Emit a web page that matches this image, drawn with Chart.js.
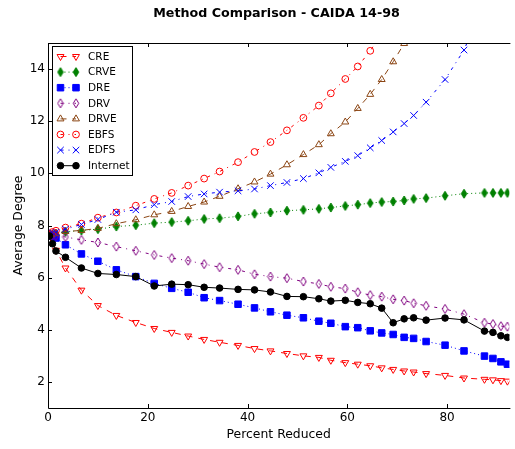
<!DOCTYPE html>
<html>
<head>
<meta charset="utf-8">
<script src="https://cdn.jsdelivr.net/npm/chart.js@4.4.0/dist/chart.umd.min.js"></script>
<style>
  html, body { margin: 0; padding: 0; background: #fff; }
</style>
</head>
<body>
<canvas id="chart" width="515" height="449"></canvas>
<script>
// x positions shared by all methods (percent of graph removed)
const percentReduced = [0.3, 0.9, 1.6, 3.5, 6.7, 10.0, 13.7, 17.6, 21.3, 24.8, 28.1, 31.3, 34.4, 38.1, 41.4, 44.6,
  47.9, 51.2, 54.3, 56.7, 59.6, 62.1, 64.6, 66.9, 69.2, 71.4, 73.3, 75.8, 79.6, 83.4, 87.5, 89.2, 90.8, 92.1];

const cre = [7.6, 7.45, 7.05, 6.37, 5.52, 4.93, 4.55, 4.28, 4.05, 3.9, 3.76, 3.63, 3.52, 3.4, 3.28, 3.19,
  3.09, 3.0, 2.94, 2.83, 2.74, 2.68, 2.62, 2.54, 2.48, 2.42, 2.38, 2.32, 2.25, 2.15, 2.1, 2.08, 2.05, 2.03];
const crve = [7.65, 7.65, 7.68, 7.76, 7.81, 7.86, 7.96, 8.01, 8.09, 8.13, 8.18, 8.25, 8.28, 8.35, 8.45, 8.5,
  8.57, 8.6, 8.64, 8.69, 8.75, 8.8, 8.86, 8.9, 8.92, 8.96, 9.02, 9.05, 9.14, 9.22, 9.25, 9.25, 9.25, 9.25];
const dre = [7.65, 7.6, 7.52, 7.26, 6.91, 6.63, 6.3, 6.04, 5.78, 5.59, 5.44, 5.23, 5.12, 4.98, 4.84, 4.69,
  4.56, 4.46, 4.33, 4.25, 4.12, 4.08, 3.96, 3.88, 3.82, 3.71, 3.67, 3.55, 3.41, 3.19, 2.99, 2.9, 2.77, 2.68];
const drv = [7.65, 7.62, 7.6, 7.56, 7.45, 7.35, 7.19, 7.03, 6.87, 6.75, 6.65, 6.52, 6.4, 6.3, 6.13, 6.04,
  5.98, 5.85, 5.76, 5.65, 5.58, 5.44, 5.33, 5.27, 5.17, 5.12, 5.02, 4.92, 4.8, 4.6, 4.27, 4.22, 4.14, 4.12];
const drve = [7.65, 7.67, 7.7, 7.77, 7.81, 7.89, 8.07, 8.22, 8.41, 8.54, 8.73, 8.9, 9.12, 9.41, 9.67, 9.97,
  10.33, 10.72, 11.1, 11.52, 11.97, 12.49, 13.03, 13.6, 14.28, 14.98, 15.8];
const ebfs = [7.68, 7.75, 7.8, 7.92, 8.07, 8.3, 8.5, 8.76, 9.02, 9.25, 9.53, 9.8, 10.07, 10.43, 10.82, 11.2,
  11.65, 12.13, 12.6, 13.07, 13.62, 14.1, 14.7, 15.35];
const edfs = [7.68, 7.72, 7.74, 7.86, 8.04, 8.23, 8.51, 8.6, 8.8, 8.92, 9.11, 9.21, 9.28, 9.33, 9.4, 9.53,
  9.65, 9.8, 10.02, 10.23, 10.46, 10.68, 10.98, 11.26, 11.59, 11.91, 12.22, 12.73, 13.6, 14.73, 16.6];
const internet = [7.6, 7.3, 7.02, 6.78, 6.37, 6.16, 6.12, 6.04, 5.68, 5.75, 5.73, 5.63, 5.6, 5.55, 5.53, 5.45,
  5.28, 5.27, 5.19, 5.1, 5.13, 5.05, 5.0, 4.83, 4.27, 4.42, 4.46, 4.37, 4.45, 4.38, 3.95, 3.9, 3.77, 3.71];

const xTicks = [0, 20, 40, 60, 80];
const yTicks = [2, 4, 6, 8, 10, 12, 14];

const FONT = "'DejaVu Sans', 'Liberation Sans', sans-serif";
const DASHED = [6, 6], DASHDOT = [3, 5, 1, 5], DOTTED = [1, 3];

// thin diamond marker ('d' in matplotlib)
function thinDiamond(color, filled) {
  const c = document.createElement('canvas');
  c.width = 8; c.height = 11;
  const g = c.getContext('2d');
  g.beginPath();
  g.moveTo(4, 1); g.lineTo(6.8, 5.5); g.lineTo(4, 10); g.lineTo(1.2, 5.5); g.closePath();
  g.lineWidth = 1;
  g.strokeStyle = color;
  if (filled) { g.fillStyle = color; g.fill(); }
  g.stroke();
  return c;
}

const series = [
  { name: 'CRE', vals: cre, color: '#ff0000', dash: DASHED, style: 'triangle', rot: 180, r: 4, filled: false },
  { name: 'CRVE', vals: crve, color: '#008000', dash: DOTTED, style: thinDiamond('#008000', true), r: 4, filled: true },
  { name: 'DRE', vals: dre, color: '#0000ff', dash: DOTTED, style: 'rect', r: 4.6, filled: true },
  { name: 'DRV', vals: drv, color: '#800080', dash: DASHDOT, style: thinDiamond('#800080', false), r: 4, filled: false },
  { name: 'DRVE', vals: drve, color: '#8b4513', dash: DASHED, style: 'triangle', rot: 0, r: 4, filled: false },
  { name: 'EBFS', vals: ebfs, color: '#ff0000', dash: DASHDOT, style: 'circle', r: 3.4, filled: false },
  { name: 'EDFS', vals: edfs, color: '#0000ff', dash: DASHDOT, style: 'crossRot', r: 4.6, filled: false },
  { name: 'Internet', vals: internet, color: '#000000', dash: [], style: 'circle', r: 3.3, filled: true }
];

const datasets = series.map((s, i) => ({
  label: s.name,
  data: s.vals.map((v, j) => ({ x: percentReduced[j], y: v })),
  borderColor: s.color,
  backgroundColor: s.color,
  borderWidth: 1,
  borderDash: s.dash,
  tension: 0,
  fill: false,
  pointStyle: s.style,
  pointRotation: s.rot || 0,
  pointRadius: s.r,
  pointBorderWidth: 1,
  pointBorderColor: s.color,
  pointBackgroundColor: s.filled ? s.color : 'rgba(0,0,0,0)',
  order: series.length - i  // last series ends up on top, like matplotlib
}));

function drawLegendPoint(ctx, s, x, y) {
  ctx.save();
  ctx.setLineDash([]);
  ctx.lineWidth = 1;
  ctx.strokeStyle = s.color;
  ctx.fillStyle = s.filled ? s.color : 'rgba(0,0,0,0)';
  Chart.helpers.drawPoint(ctx, { pointStyle: s.style, rotation: s.rot || 0, radius: s.r, borderWidth: 1 }, x, y);
  ctx.restore();
}

const decorations = {
  id: 'decorations',
  afterDraw(chart) {
    const { ctx, chartArea: a, scales } = chart;
    ctx.save();
    // frame (top, left, bottom)
    ctx.strokeStyle = '#000';
    ctx.lineWidth = 1;
    ctx.beginPath();
    ctx.moveTo(a.right + 1, a.top + 0.5);
    ctx.lineTo(a.left + 0.5, a.top + 0.5);
    ctx.lineTo(a.left + 0.5, a.bottom + 0.5);
    ctx.lineTo(a.right + 1, a.bottom + 0.5);
    ctx.stroke();
    // inward ticks
    ctx.beginPath();
    xTicks.forEach(v => {
      const px = Math.round(scales.x.getPixelForValue(v)) + 0.5;
      ctx.moveTo(px, a.bottom); ctx.lineTo(px, a.bottom - 4);
      ctx.moveTo(px, a.top); ctx.lineTo(px, a.top + 4);
    });
    yTicks.forEach(v => {
      const py = Math.round(scales.y.getPixelForValue(v)) + 0.5;
      ctx.moveTo(a.left, py); ctx.lineTo(a.left + 4, py);
    });
    ctx.stroke();

    // title
    ctx.fillStyle = '#000';
    ctx.font = "bold 12.7px " + FONT;
    ctx.textAlign = 'center';
    ctx.textBaseline = 'alphabetic';
    ctx.fillText('Method Comparison - CAIDA 14-98', 276.5, 16.5);

    // legend
    const lx = 52.5, ly = 46.5, lw = 80, lh = 129;
    ctx.fillStyle = '#fff';
    ctx.fillRect(lx, ly, lw, lh);
    ctx.strokeStyle = '#000';
    ctx.strokeRect(lx, ly, lw, lh);
    ctx.font = "10.5px " + FONT;
    ctx.textAlign = 'left';
    ctx.textBaseline = 'middle';
    series.forEach((s, i) => {
      const y = 56.5 + i * 15.6;
      ctx.save();
      ctx.strokeStyle = s.color;
      ctx.lineWidth = 1;
      ctx.setLineDash(s.dash);
      ctx.beginPath();
      ctx.moveTo(60.5, y); ctx.lineTo(76, y);
      ctx.stroke();
      ctx.restore();
      drawLegendPoint(ctx, s, 60.5, y);
      drawLegendPoint(ctx, s, 76, y);
      ctx.fillStyle = '#000';
      ctx.fillText(s.name, 88, y + 0.5);
    });
    ctx.restore();
  }
};

const tickFont = { family: FONT, size: 12 };

new Chart(document.getElementById('chart').getContext('2d'), {
  type: 'line',
  data: { datasets },
  options: {
    responsive: false,
    animation: false,
    events: [],
    layout: { padding: { top: 43, right: 0, left: 0, bottom: 0 } },
    plugins: { legend: { display: false }, tooltip: { enabled: false }, title: { display: false } },
    scales: {
      x: {
        type: 'linear', min: 0, max: 92.5,
        afterBuildTicks: s => { s.ticks = xTicks.map(v => ({ value: v })); },
        afterFit: s => { s.height = 41; s.paddingLeft = 0; s.paddingRight = 0; },
        ticks: { color: '#000', font: tickFont, padding: 3, maxRotation: 0, autoSkip: false },
        grid: { display: false, drawTicks: false },
        border: { display: false },
        title: { display: true, text: 'Percent Reduced', color: '#000', font: { family: FONT, size: 12.4 }, padding: { top: 0, bottom: 6.5 } }
      },
      y: {
        type: 'linear', min: 1, max: 15,
        afterBuildTicks: s => { s.ticks = yTicks.map(v => ({ value: v })); },
        afterFit: s => { s.width = 48; },
        ticks: { color: '#000', font: tickFont, padding: 3, autoSkip: false },
        grid: { display: false, drawTicks: false },
        border: { display: false },
        title: { display: true, text: 'Average Degree', color: '#000', font: { family: FONT, size: 12.4 }, padding: { top: 11, bottom: 0 } }
      }
    }
  },
  plugins: [decorations]
});
</script>
</body>
</html>
